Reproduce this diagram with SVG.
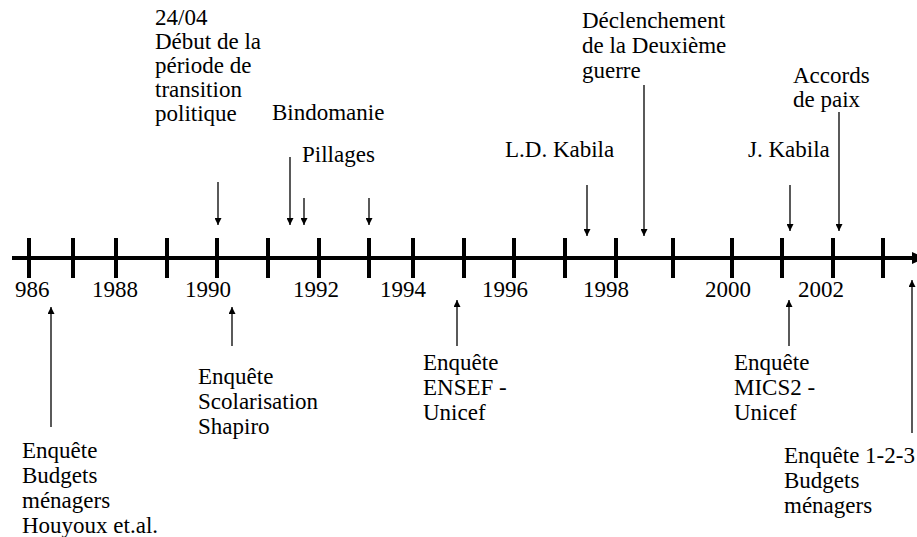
<svg xmlns="http://www.w3.org/2000/svg" width="917" height="537" viewBox="0 0 917 537">
<style>
text{font-family:"Liberation Serif","Times New Roman",serif;font-size:23px;fill:#000}
.ax{stroke:#000;stroke-width:4;fill:none}
.ar{stroke:#000;stroke-width:1.3;fill:none;marker-end:url(#ah)}
</style>
<defs>
<marker id="ah" viewBox="0 0 10 10" refX="10" refY="5" markerWidth="7" markerHeight="7" markerUnits="userSpaceOnUse" orient="auto">
<path d="M0,0 L10,5 L0,10 Z" fill="#000"/>
</marker>
</defs>
<g id="axis">
<line class="ax" x1="12" y1="258" x2="914" y2="258"/>
<path d="M912,252 L926,258 L912,264 Z" fill="#000"/>
<g class="ax">
<line x1="29" y1="238" x2="29" y2="278"/>
<line x1="73" y1="238" x2="73" y2="278"/>
<line x1="116" y1="238" x2="116" y2="278"/>
<line x1="167" y1="238" x2="167" y2="278"/>
<line x1="217" y1="238" x2="217" y2="278"/>
<line x1="268" y1="238" x2="268" y2="278"/>
<line x1="319" y1="238" x2="319" y2="278"/>
<line x1="369" y1="238" x2="369" y2="278"/>
<line x1="413" y1="238" x2="413" y2="278"/>
<line x1="464" y1="238" x2="464" y2="278"/>
<line x1="514" y1="238" x2="514" y2="278"/>
<line x1="565" y1="238" x2="565" y2="278"/>
<line x1="616" y1="238" x2="616" y2="278"/>
<line x1="673" y1="238" x2="673" y2="278"/>
<line x1="732" y1="238" x2="732" y2="278"/>
<line x1="782" y1="238" x2="782" y2="278"/>
<line x1="833" y1="238" x2="833" y2="278"/>
<line x1="883" y1="238" x2="883" y2="278"/>
</g>
<text x="15" y="297">986</text>
<text x="92" y="297">1988</text>
<text x="185" y="297">1990</text>
<text x="293" y="297">1992</text>
<text x="380" y="297">1994</text>
<text x="482" y="297">1996</text>
<text x="583" y="297">1998</text>
<text x="705" y="297">2000</text>
<text x="798" y="297">2002</text>
</g>
<g id="connectors">
<line class="ar" x1="218" y1="182" x2="218" y2="225"/>
<line class="ar" x1="290" y1="157" x2="290" y2="225"/>
<line class="ar" x1="304" y1="198" x2="304" y2="225"/>
<line class="ar" x1="369" y1="198" x2="369" y2="225"/>
<line class="ar" x1="587" y1="185" x2="587" y2="236"/>
<line class="ar" x1="644" y1="85" x2="644" y2="236"/>
<line class="ar" x1="790" y1="185" x2="790" y2="231"/>
<line class="ar" x1="839" y1="112" x2="839" y2="231"/>
<line class="ar" x1="51" y1="427" x2="51" y2="307"/>
<line class="ar" x1="232" y1="346" x2="232" y2="307"/>
<line class="ar" x1="457" y1="346" x2="457" y2="300"/>
<line class="ar" x1="789" y1="346" x2="789" y2="300"/>
<line class="ar" x1="912" y1="433" x2="912" y2="280"/>
</g>
<g id="transition">
<text x="155" y="25">24/04</text>
<text x="155" y="49">Début de la</text>
<text x="155" y="73">période de</text>
<text x="155" y="97">transition</text>
<text x="155" y="121">politique</text>
</g>
<g id="bindomanie"><text x="272" y="120">Bindomanie</text></g>
<g id="pillages"><text x="302" y="162">Pillages</text></g>
<g id="ldkabila"><text x="505" y="157">L.D. Kabila</text></g>
<g id="guerre">
<text x="582" y="28">Déclenchement</text>
<text x="582" y="53">de la Deuxième</text>
<text x="582" y="78">guerre</text>
</g>
<g id="jkabila"><text x="748" y="157">J. Kabila</text></g>
<g id="accords">
<text x="793" y="83">Accords</text>
<text x="793" y="107">de paix</text>
</g>
<g id="houyoux">
<text x="22" y="458">Enquête</text>
<text x="22" y="483">Budgets</text>
<text x="22" y="508">ménagers</text>
<text x="22" y="533">Houyoux et.al.</text>
</g>
<g id="shapiro">
<text x="198" y="384">Enquête</text>
<text x="198" y="409">Scolarisation</text>
<text x="198" y="434">Shapiro</text>
</g>
<g id="ensef">
<text x="423" y="370">Enquête</text>
<text x="423" y="395">ENSEF -</text>
<text x="423" y="420">Unicef</text>
</g>
<g id="mics2">
<text x="734" y="370">Enquête</text>
<text x="734" y="395">MICS2 -</text>
<text x="734" y="420">Unicef</text>
</g>
<g id="enquete123">
<text x="784" y="463">Enquête 1-2-3</text>
<text x="784" y="488">Budgets</text>
<text x="784" y="513">ménagers</text>
</g>
</svg>
